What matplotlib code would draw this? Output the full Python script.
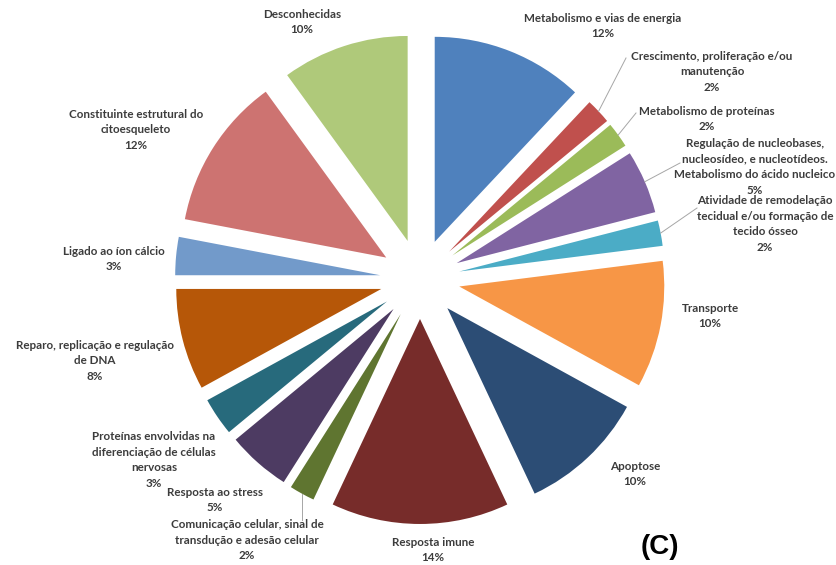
import numpy as np
import matplotlib
matplotlib.use("Agg")
import matplotlib.pyplot as plt

# Dados (sentido horário a partir das 12h)
categorias = [
    "Metabolismo e vias de energia",
    "Crescimento, proliferação e/ou\nmanutenção",
    "Metabolismo de proteínas",
    "Regulação de nucleobases,\nnucleosídeo, e nucleotídeos.\nMetabolismo do ácido nucleico",
    "Atividade de remodelação\ntecidual e/ou formação de\ntecido ósseo",
    "Transporte",
    "Apoptose",
    "Resposta imune",
    "Comunicação celular, sinal de\ntransdução e adesão celular",
    "Resposta ao stress",
    "Proteínas envolvidas na\ndiferenciação de células\nnervosas",
    "Reparo, replicação e regulação\nde DNA",
    "Ligado ao íon cálcio",
    "Constituinte estrutural do\ncitoesqueleto",
    "Desconhecidas",
]
percentuais = [12, 2, 2, 5, 2, 10, 10, 14, 2, 5, 3, 8, 3, 12, 10]

cores = ["#4F81BD", "#C0504D", "#9BBB59", "#8064A2", "#4BACC6", "#F79646",
         "#2C4D75", "#772C2A", "#5F7530", "#4D3B62", "#276A7C", "#B65708",
         "#729ACA", "#CD7371", "#AFC97A"]

# geometria em pixels da imagem
W, H = 837, 565
CX, CY, R = 420, 279, 205
EXPL = 0.195

def px(x, y):
    return (x - CX) / R, (CY - y) / R

# posição (centro do bloco de texto) de cada rótulo, em pixels
pos_rotulos = [(603, 26), (712, 72), (707, 119), (755, 167), (765, 224),
               (710, 316), (635, 474), (433, 550), (247, 540), (215, 500),
               (154, 460), (95, 361), (114, 259), (136, 130), (302, 22)]
# fim da linha de chamada (só fatias pequenas)
linhas = {1: (626, 58), 2: (636, 113), 3: (680, 163), 4: (697, 208), 8: (None, 520)}

fig = plt.figure(figsize=(W / 100, H / 100), dpi=100)
ax = fig.add_axes([0, 0, 1, 1])

wedges, _ = ax.pie(percentuais, colors=cores, startangle=90, counterclock=False,
                   radius=1, explode=[EXPL] * len(percentuais),
                   wedgeprops=dict(linewidth=0))

fonte = dict(family=["Lato", "DejaVu Sans"], fontsize=8.4, color="#3c3c3c",
             weight="bold", ha="center", va="center", linespacing=1.5)

for i, (w, nome, p) in enumerate(zip(wedges, categorias, percentuais)):
    x, y = px(*pos_rotulos[i])
    ax.text(x, y, f"{nome}\n{p}%", **fonte)
    if i in linhas:
        ang = np.deg2rad((w.theta1 + w.theta2) / 2)
        x0 = (1 + EXPL) * np.cos(ang)
        y0 = (1 + EXPL) * np.sin(ang)
        xe, ye = linhas[i]
        x1 = x0 if xe is None else px(xe, 0)[0]
        y1 = px(0, ye)[1]
        ax.plot([x0, x1], [y0, y1], color="#a6a6a6", lw=0.7)

tx, ty = px(660, 547)
ax.text(tx, ty, "(C)", fontsize=20, weight="bold", family="Liberation Sans",
        ha="center", va="center", color="black")

ax.set_xlim(-CX / R, (W - CX) / R)
ax.set_ylim(-(H - CY) / R, CY / R)
ax.set_aspect("equal", adjustable="box")
ax.axis("off")

fig.savefig("out.png", dpi=100)
